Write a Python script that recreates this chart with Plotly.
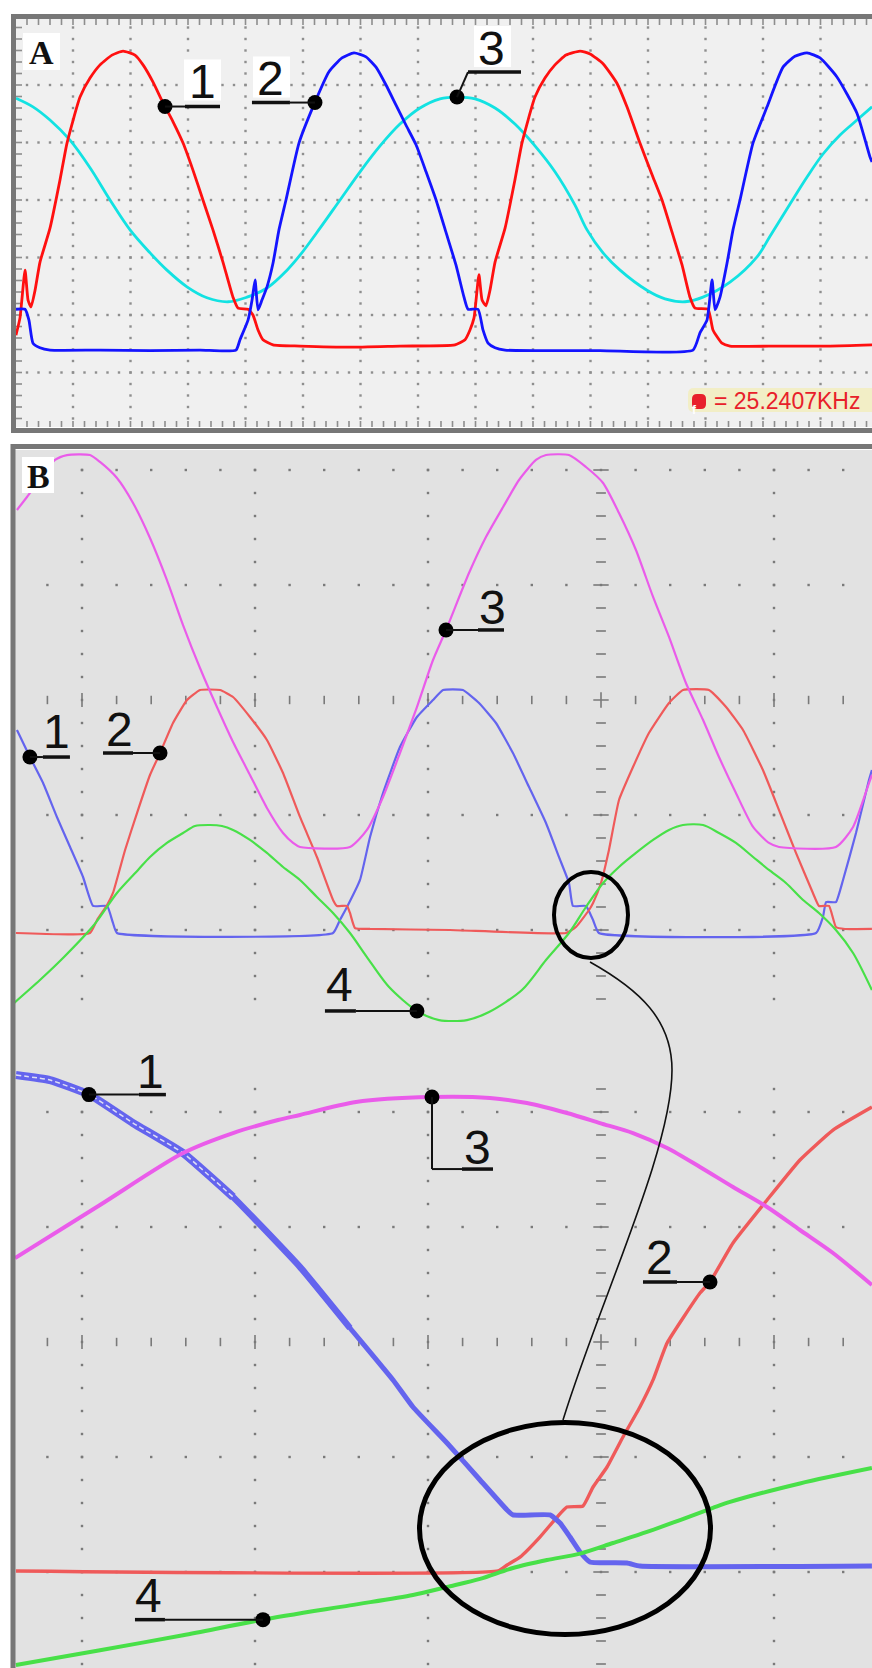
import numpy as np
import plotly.graph_objects as go

W, H = 872, 1668

# ---------------- Screen A: time in µs (5 µs/div), amplitude in divisions ----------------
A_CH1_T = [0.04, 0.39, 0.83, 1.09, 1.35, 1.70, 2.13, 3.00, 3.87, 4.48, 5.61, 6.48, 7.35, 8.39, 9.35,
           10.39, 11.09, 11.96, 12.83, 13.70, 14.57, 15.43, 16.30, 17.17, 18.04, 18.91, 19.35, 20.22,
           20.65, 21.09, 21.52, 22.39, 24.74, 29.09, 33.43, 38.22,
           39.09, 39.52, 39.87, 40.30, 40.57, 40.91, 41.26, 41.70, 42.57, 43.43, 44.04, 45.17, 46.04,
           46.91, 47.87, 49.09, 49.96, 51.09, 52.30, 53.17, 54.30, 55.43, 56.22, 57.09, 57.96, 58.65,
           59.09, 60.22, 60.65, 61.43, 62.13, 66.48, 70.83, 74.48]
A_CH1_V = [-1.35, -1.05, -0.22, -0.74, -0.86, -0.57, -0.08, 0.51, 1.35, 1.99, 2.79, 3.12, 3.35, 3.52, 3.59,
           3.52, 3.35, 3.05, 2.69, 2.36, 1.99, 1.52, 1.00, 0.48, -0.08, -0.69, -0.88, -0.90,
           -1.00, -1.26, -1.43, -1.52, -1.54, -1.56, -1.54, -1.52,
           -1.43, -1.26, -1.05, -0.30, -0.74, -0.84, -0.57, -0.08, 0.51, 1.35, 1.99, 2.79, 3.12,
           3.35, 3.52, 3.59, 3.54, 3.37, 3.03, 2.62, 1.99, 1.40, 1.00, 0.44, -0.13, -0.69,
           -0.88, -0.90, -1.26, -1.49, -1.54, -1.54, -1.54, -1.52]

A_CH2_T = [0.04, 0.83, 1.17, 1.52, 2.13, 3.00, 7.35, 11.70, 16.04, 19.17,
           19.52, 20.22, 20.57, 20.83, 21.09, 21.43, 21.87, 22.39, 22.91, 23.52,
           24.65, 25.87, 27.26, 28.39, 29.43, 30.48, 31.35, 32.22, 33.09, 33.96,
           34.83, 35.70, 36.57, 37.43, 38.30, 39.00, 39.35, 40.22, 40.65, 41.09,
           41.70, 42.57, 50.83, 58.91, 59.52, 60.13, 60.57, 60.83, 61.26, 61.87,
           62.39, 63.00, 64.13, 65.35, 66.74, 67.78, 68.83, 69.96, 71.43, 73.17,
           74.30, 74.48]
A_CH2_V = [-0.90, -0.90, -1.09, -1.49, -1.57, -1.61, -1.61, -1.62, -1.61, -1.61,
           -1.43, -1.09, -0.74, -0.39, -0.91, -0.74, -0.51, -0.10, 0.48, 1.00,
           1.99, 2.62, 3.23, 3.47, 3.56, 3.49, 3.31, 3.00, 2.65, 2.30,
           1.96, 1.49, 1.00, 0.44, -0.13, -0.69, -0.90, -0.90, -1.26, -1.49,
           -1.57, -1.61, -1.62, -1.61, -1.31, -1.09, -0.39, -0.91, -0.69, -0.10,
           0.48, 1.00, 1.99, 2.62, 3.31, 3.50, 3.56, 3.47, 3.14, 2.51,
           1.75, 1.66]

A_CH3_T = [0.04, 1.52, 3.00, 4.74, 6.48, 8.22, 9.96, 11.70, 13.17, 14.91,
           16.65, 18.48, 20.13, 21.87, 23.61, 24.74, 26.48, 28.22, 29.96, 31.70,
           33.43, 35.17, 36.91, 38.39, 39.96, 41.70, 43.43, 45.17, 46.91, 48.65,
           49.70, 51.09, 52.57, 54.91, 56.48, 58.22, 59.78, 62.13, 64.48, 65.61,
           67.35, 68.83, 70.22, 71.70, 73.17, 74.48]
A_CH3_V = [2.77, 2.62, 2.39, 2.04, 1.56, 1.00, 0.48, 0.08, -0.22, -0.51,
           -0.70, -0.77, -0.69, -0.53, -0.22, 0.04, 0.51, 1.00, 1.49, 1.94,
           2.32, 2.60, 2.76, 2.79, 2.76, 2.60, 2.32, 1.94, 1.49, 0.91,
           0.48, 0.08, -0.22, -0.57, -0.72, -0.77, -0.69, -0.43, 0.01, 0.37,
           0.93, 1.40, 1.80, 2.13, 2.39, 2.62]

FREQ_TEXT = "= 25.2407KHz"

# ---------------- Screen B, normal sweep (divisions) ----------------
B_CH1_X = [-3.376, -3.301, -3.225, -3.145, -3.069, -2.994, -2.936, -2.855, -2.821, -2.798,
           -1.549, -1.509, -1.468, -1.393, -1.335, -1.260, -1.162, -1.064, -0.971, -0.913,
           -0.798, -0.705, -0.607, -0.509, -0.416, -0.318, -0.243, -0.185, -0.162, -0.087,
           -0.046, -0.012, 1.243, 1.283, 1.301, 1.358, 1.399, 1.474, 1.549, 1.566]
B_CH1_Y = [-0.261, -0.496, -0.722, -1.017, -1.278, -1.539, -1.791, -1.791, -1.939, -2.026,
           -2.026, -1.913, -1.800, -1.565, -1.191, -0.809, -0.409, -0.148, 0.0, 0.087,
           0.087, -0.026, -0.200, -0.461, -0.757, -1.070, -1.365, -1.591, -1.791, -1.791,
           -1.913, -2.026, -2.026, -1.887, -1.757, -1.757, -1.565, -1.157, -0.696, -0.609]

B_CH2_X = [-3.382, -2.954, -2.913, -2.855, -2.821, -2.751, -2.682, -2.607, -2.549, -2.474, -2.393, -2.318,
           -2.202, -2.127, -2.029, -1.931, -1.838, -1.740, -1.642,
           -1.549, -1.526, -1.468, -1.451, -1.422, -1.335, -0.873,
           -0.202, -0.145, -0.069, -0.046, 0.0, 0.046, 0.104, 0.185, 0.277, 0.393,
           0.474, 0.624, 0.723, 0.821, 0.936, 1.029, 1.127, 1.225, 1.260, 1.318,
           1.358, 1.410, 1.566]
B_CH2_Y = [-2.026, -2.026, -1.913, -1.783, -1.678, -1.304, -0.983, -0.652, -0.461, -0.200, 0.0, 0.087,
           0.087, 0.026, -0.148, -0.348, -0.635, -1.017, -1.365,
           -1.739, -1.791, -1.791, -1.852, -1.983, -1.991, -2.0,
           -2.026, -1.974, -1.826, -1.765, -1.591, -1.304, -0.870, -0.583, -0.287, -0.026,
           0.087, 0.087, -0.061, -0.261, -0.609, -0.957, -1.330, -1.678, -1.791, -1.791,
           -1.974, -1.991, -1.991]

B_CH3_X = [-3.376, -3.318, -3.156, -3.087, -2.954, -2.896, -2.798, -2.705, -2.607, -2.509,
           -2.416, -2.318, -2.220, -2.127, -2.029, -1.931, -1.838, -1.780, -1.740, -1.451,
           -1.353, -1.260, -1.162, -1.064, -0.971, -0.896, -0.763, -0.665, -0.566, -0.474,
           -0.376, -0.318, -0.185, -0.087, 0.012, 0.104, 0.202, 0.301, 0.393, 0.491,
           0.590, 0.682, 0.780, 0.879, 0.971, 1.029, 1.358, 1.457, 1.549, 1.566]
B_CH3_Y = [1.652, 1.765, 2.087, 2.130, 2.130, 2.070, 1.930, 1.713, 1.409, 1.043,
           0.652, 0.278, -0.061, -0.365, -0.652, -0.939, -1.157, -1.243, -1.278, -1.278,
           -1.130, -0.843, -0.461, -0.061, 0.348, 0.609, 1.104, 1.417, 1.678, 1.913,
           2.087, 2.130, 2.130, 2.026, 1.887, 1.626, 1.304, 0.896, 0.548, 0.148,
           -0.174, -0.496, -0.809, -1.104, -1.243, -1.278, -1.278, -1.104, -0.722, -0.652]

B_CH4_X = [-3.393, -3.243, -3.104, -2.931, -2.798, -2.676, -2.607, -2.509, -2.416, -2.347,
           -2.260, -2.191, -2.127, -2.029, -1.931, -1.838, -1.740, -1.642, -1.549, -1.451,
           -1.353, -1.225, -1.064, -0.936, -0.775, -0.647, -0.457, -0.318, -0.185, -0.087,
           0.012, 0.104, 0.202, 0.301, 0.393, 0.474, 0.590, 0.682, 0.780, 0.879,
           0.971, 1.069, 1.168, 1.260, 1.358, 1.457, 1.566]
B_CH4_Y = [-2.635, -2.435, -2.235, -1.957, -1.678, -1.478, -1.365, -1.243, -1.157, -1.096,
           -1.087, -1.096, -1.130, -1.217, -1.330, -1.452, -1.565, -1.713, -1.852, -2.026,
           -2.235, -2.496, -2.704, -2.783, -2.783, -2.713, -2.522, -2.261, -2.026, -1.800,
           -1.591, -1.452, -1.330, -1.217, -1.130, -1.087, -1.087, -1.157, -1.243, -1.365,
           -1.478, -1.591, -1.739, -1.852, -2.0, -2.200, -2.522]

# ---------------- Screen B, expanded sweep (divisions) ----------------
Z_CH1_X = [-3.382, -3.185, -2.954, -2.705, -2.416, -2.127, -1.740, -1.451, -1.202, -1.087,
           -0.890, -0.699, -0.543, -0.509, -0.295, -0.237, -0.179, -0.121, -0.064, 0.150,
           0.225, 1.566]
Z_CH1_Y = [2.322, 2.278, 2.148, 1.904, 1.643, 1.261, 0.652, 0.122, -0.330, -0.565,
           -0.878, -1.2, -1.461, -1.504, -1.504, -1.574, -1.696, -1.826, -1.913, -1.922,
           -1.948, -1.948]

Z_CH2_X = [-3.382, -0.595, -0.543, -0.468, -0.353, -0.254, -0.197, -0.104, -0.046, 0.035,
           0.127, 0.225, 0.301, 0.382, 0.572, 0.630, 0.763, 0.960, 1.150, 1.341, 1.566]
Z_CH2_Y = [-1.991, -1.991, -1.939, -1.870, -1.696, -1.522, -1.435, -1.426, -1.261, -1.087,
           -0.826, -0.565, -0.330, -0.009, 0.426, 0.522, 0.861, 1.235, 1.583, 1.843, 2.043]

Z_CH3_X = [-3.387, -2.896, -2.416, -2.127, -1.867, -1.740, -1.416, -0.983, -0.642, -0.428,
           -0.197, -0.006, 0.185, 0.382, 0.572, 0.763, 0.960, 1.150, 1.341, 1.566]
Z_CH3_Y = [0.730, 1.191, 1.643, 1.817, 1.930, 1.974, 2.087, 2.130, 2.122, 2.078,
           1.991, 1.904, 1.817, 1.687, 1.522, 1.348, 1.174, 0.974, 0.774, 0.496]

Z_CH4_X = [-3.382, -2.896, -2.416, -1.965, -1.451, -1.087, -0.890, -0.699, -0.509, -0.312,
           -0.121, 0.069, 0.266, 0.457, 0.647, 0.746, 1.150, 1.566]
Z_CH4_Y = [-2.809, -2.680, -2.550, -2.417, -2.290, -2.200, -2.130, -2.060, -1.965, -1.896,
           -1.840, -1.748, -1.652, -1.548, -1.443, -1.391, -1.230, -1.096]

# ---------------- screen geometry (pixels) ----------------
A_BOX = (16, 19, 872, 427)          # left, top, right, bottom of screen A
A_T0, A_PX_US = 15.5, 11.5          # pixel of t = 0, pixels per µs
A_V0, A_PX_DIV = 257.5, 57.5        # pixel of 0 div, pixels per div
B_BOX = (15, 450, 872, 1668)
B_X0, B_PX_X = 601, 173
B_UP_Y0, B_LO_Y0, B_PX_Y = 700, 1342, 115

AXES = {"A": ("x", "y"), "U": ("x2", "y2"), "L": ("x2", "y3")}
LABEL_FONT = dict(family="Liberation Sans", size=48, color="#111111")


def to_px(scr, x, y):
    if scr == "A":
        return A_T0 + x * A_PX_US, A_V0 - y * A_PX_DIV
    y0 = B_UP_Y0 if scr == "U" else B_LO_Y0
    return B_X0 + x * B_PX_X, y0 - y * B_PX_Y


def pxx(v):
    return v / W


def pxy(v):
    return 1 - v / H


fig = go.Figure()


def add_markers(scr, xs, ys, color, size, symbol="square", lw=0):
    xa, ya = AXES[scr]
    fig.add_trace(go.Scatter(
        x=xs, y=ys, xaxis=xa, yaxis=ya, mode="markers", hoverinfo="skip",
        marker=dict(symbol=symbol, size=size, color=color,
                    line=dict(width=lw, color=color))))


def add_line(scr, xs, ys, color, width, dash="solid", smooth=0.0):
    xa, ya = AXES[scr]
    line = dict(color=color, width=width, dash=dash)
    if smooth > 0:
        line.update(shape="spline", smoothing=smooth)
    fig.add_trace(go.Scatter(
        x=xs, y=ys, xaxis=xa, yaxis=ya, mode="lines", hoverinfo="skip", line=line))


# ---------- graticule of screen A ----------
A_DOT = "#8e8e8e"
gx, gy = [], []
for xv in np.arange(5, 71, 5):
    for yv in np.arange(-2.8, 4.05, 0.2):
        gx.append(xv); gy.append(yv)
for yv in np.arange(-2, 4, 1):
    for xv in np.arange(1, 74.5, 1.0):
        gx.append(xv); gy.append(yv)
add_markers("A", gx, gy, A_DOT, 2.4)
# edge ticks of screen A
t_top = (A_V0 - 21.5) / A_PX_DIV
t_bot = (A_V0 - 424.5) / A_PX_DIV
xt = np.arange(1, 74.5, 1.0)
add_markers("A", list(xt) * 2, [t_top] * len(xt) + [t_bot] * len(xt), A_DOT, 5, "line-ns", 1.6)
yt = np.arange(-2.8, 4.05, 0.2)
add_markers("A", [(18.5 - A_T0) / A_PX_US] * len(yt), list(yt), A_DOT, 5, "line-ew", 1.6)

# ---------- graticule of screen B (normal and expanded sweeps) ----------
B_DOT = "#7a7a7a"
for scr, ylo, yhi in (("U", -2.6, 2.0), ("L", -2.8, 2.2)):
    gx, gy = [], []
    yy = np.arange(ylo, yhi + 0.01, 0.2)
    xx = np.arange(-3.2, 1.41, 0.2)
    for xv in (-3, -2, -1, 1):
        gx += [xv] * len(yy); gy += list(yy)
    for yv in (-2, -1, 1, 2):
        if ylo <= yv <= yhi:
            gx += list(xx); gy += [yv] * len(xx)
    add_markers(scr, gx, gy, B_DOT, 2.4)
    # centre axes carry tick marks
    minor_x = [v for v in xx if abs(v - round(v)) > 1e-6]
    major_x = [v for v in xx if abs(v - round(v)) <= 1e-6 and abs(v) > 1e-6]
    add_markers(scr, minor_x, [0] * len(minor_x), B_DOT, 6, "line-ns", 1.6)
    add_markers(scr, major_x, [0] * len(major_x), B_DOT, 10, "line-ns", 1.6)
    minor_y = [v for v in yy if abs(v - round(v)) > 1e-6]
    major_y = [v for v in yy if abs(v - round(v)) <= 1e-6 and abs(v) > 1e-6]
    add_markers(scr, [0] * len(minor_y), minor_y, B_DOT, 7, "line-ew", 1.6)
    add_markers(scr, [0] * len(major_y), major_y, B_DOT, 11, "line-ew", 1.6)
    add_markers(scr, [0], [0], B_DOT, 11, "cross-thin", 1.6)

# ---------- traces ----------
add_line("A", A_CH3_T, A_CH3_V, "#12e2e2", 2.8, smooth=1.0)
add_line("A", A_CH1_T, A_CH1_V, "#ff1010", 2.8, smooth=0.5)
add_line("A", A_CH2_T, A_CH2_V, "#1414ff", 2.8, smooth=0.5)

PINK, RED, BLUE, GREEN = "#ea5cea", "#ef5a5a", "#6464ee", "#48e048"
add_line("U", B_CH1_X, B_CH1_Y, BLUE, 2.2, smooth=0.4)
add_line("U", B_CH2_X, B_CH2_Y, RED, 2.2, smooth=0.4)
add_line("U", B_CH4_X, B_CH4_Y, GREEN, 2.2, smooth=0.8)
add_line("U", B_CH3_X, B_CH3_Y, PINK, 2.2, smooth=0.6)

add_line("L", Z_CH2_X, Z_CH2_Y, RED, 3.4, smooth=0.4)
# expanded channel 1: the doubled trace is wide at first and narrows along the sweep
for lo, hi, wdt in ((-9, -2.127, 8), (-2.416, -1.451, 6.5), (-1.740, 9, 5)):
    idx = [i for i, x in enumerate(Z_CH1_X) if lo <= x <= hi]
    add_line("L", [Z_CH1_X[i] for i in idx], [Z_CH1_Y[i] for i in idx], BLUE, wdt, smooth=0.4)
zx = [x for x in Z_CH1_X if x < -2.0]
zy = list(np.interp(zx, Z_CH1_X, Z_CH1_Y))
add_line("L", zx, zy, "rgba(235,235,245,0.9)", 1.5, "5px,3px", smooth=0.4)
add_line("L", Z_CH3_X, Z_CH3_Y, PINK, 4, smooth=0.8)
add_line("L", Z_CH4_X, Z_CH4_Y, GREEN, 4, smooth=0.8)

# ---------- shapes: screen backgrounds and frames ----------
shapes = []
annotations = []


def rect(x0, y0, x1, y1, **kw):
    shapes.append(dict(type="rect", xref="paper", yref="paper",
                       x0=pxx(x0), x1=pxx(x1), y0=pxy(y1), y1=pxy(y0), **kw))


def seg(x0, y0, x1, y1, width, color="#111111"):
    shapes.append(dict(type="line", xref="paper", yref="paper",
                       x0=pxx(x0), x1=pxx(x1), y0=pxy(y0), y1=pxy(y1),
                       line=dict(color=color, width=width)))


rect(*A_BOX, fillcolor="#f0f0f0", line=dict(width=0), layer="below")
rect(*B_BOX, fillcolor="#e2e2e2", line=dict(width=0), layer="below")
rect(13.5, 16.5, 885, 430.5, line=dict(color="#777777", width=5), layer="above")
rect(13, 446.5, 885, 1690, line=dict(color="#777777", width=5), layer="above")

# panel letters
for letter, (bx0, by0, bx1, by1) in (("A", (23, 33, 60, 70)), ("B", (22, 457, 54, 493))):
    rect(bx0, by0, bx1, by1, fillcolor="white", line=dict(width=0))
    annotations.append(dict(xref="paper", yref="paper", x=pxx((bx0 + bx1) / 2), y=pxy((by0 + by1) / 2 + 1),
                            text="<b>%s</b>" % letter, showarrow=False, xanchor="center", yanchor="middle",
                            font=dict(family="Liberation Serif", size=34, color="#111111")))


# frequency read-out of screen A
def rounded_path(x0, y0, x1, y1, r):
    p = [(x0 + r, y0), (x1 - r, y0), (x1, y0), (x1, y0 + r), (x1, y1 - r), (x1, y1), (x1 - r, y1),
         (x0 + r, y1), (x0, y1), (x0, y1 - r), (x0, y0 + r), (x0, y0), (x0 + r, y0)]
    q = [(pxx(a), pxy(b)) for a, b in p]
    return ("M %f,%f L %f,%f Q %f,%f %f,%f L %f,%f Q %f,%f %f,%f L %f,%f Q %f,%f %f,%f "
            "L %f,%f Q %f,%f %f,%f Z") % tuple(v for pt in q for v in pt)


shapes.append(dict(type="path", xref="paper", yref="paper", path=rounded_path(688, 388, 878, 412, 6),
                   fillcolor="#f2eec6", line=dict(width=0)))
shapes.append(dict(type="path", xref="paper", yref="paper", path=rounded_path(692, 394, 706, 409, 5),
                   fillcolor="#e8202a", line=dict(width=0)))
annotations.append(dict(xref="paper", yref="paper", x=pxx(699), y=pxy(401.5), text="<b>f</b>",
                        showarrow=False, font=dict(family="Liberation Sans", size=12, color="white")))
annotations.append(dict(xref="paper", yref="paper", x=pxx(712), y=pxy(401), text=FREQ_TEXT,
                        showarrow=False, xanchor="left", yanchor="middle",
                        font=dict(family="Liberation Sans", size=23, color="#e8202a")))

# ---------- channel labels: dot on the trace, leader, number ----------
SERIES = {
    "A1": ("A", A_CH1_T, A_CH1_V), "A2": ("A", A_CH2_T, A_CH2_V), "A3": ("A", A_CH3_T, A_CH3_V),
    "U1": ("U", B_CH1_X, B_CH1_Y), "U2": ("U", B_CH2_X, B_CH2_Y),
    "U3": ("U", B_CH3_X, B_CH3_Y), "U4": ("U", B_CH4_X, B_CH4_Y),
    "L1": ("L", Z_CH1_X, Z_CH1_Y), "L2": ("L", Z_CH2_X, Z_CH2_Y),
    "L3": ("L", Z_CH3_X, Z_CH3_Y), "L4": ("L", Z_CH4_X, Z_CH4_Y),
}
# key, x on the trace, text, thin leader (pixel offsets), thick underline, text offset, white box
LABELS = [
    ("A1", 13.00, "1", [(0, 0), (20, 0)], [(20, 0), (55, 0)], (37, -25), True),
    ("A2", 26.04, "2", [(0, 0), (-25, 0)], [(-63, 0), (-25, 0)], (-44, -24), True),
    ("A3", 38.39, "3", [(0, 0), (11, -25)], [(11, -25), (64, -25)], (35, -49), True),
    ("U1", -3.301, "1", [(0, 0), (13, 0)], [(13, 0), (40, 0)], (27, -26), False),
    ("U2", -2.549, "2", [(0, 0), (-27, 0)], [(-57, 0), (-27, 0)], (-41, -24), False),
    ("U3", -0.896, "3", [(0, 0), (32, 0)], [(32, 0), (58, 0)], (47, -22), False),
    ("U4", -1.064, "4", [(0, 0), (-61, 0)], [(-92, 0), (-61, 0)], (-77, -26), False),
    ("L1", -2.960, "1", [(0, 0), (50, 0)], [(50, 0), (77, 0)], (62, -23), False),
    ("L3", -0.977, "3", [(0, 0), (0, 72), (30, 72)], [(30, 72), (61, 72)], (46, 50), False),
    ("L2", 0.630, "2", [(0, 0), (-33, 0)], [(-67, 0), (-33, 0)], (-50, -24), False),
    ("L4", -1.954, "4", [(0, 0), (-98, 0)], [(-128, 0), (-98, 0)], (-114, -24), False),
]

for key, xd, txt, thin, thick, (tdx, tdy), box in LABELS:
    scr, sx, sy = SERIES[key]
    yd = float(np.interp(xd, sx, sy))
    dxp, dyp = to_px(scr, xd, yd)
    tx, ty = dxp + tdx, dyp + tdy
    if box:
        rect(tx - 18, ty - 22, tx + 19, ty + 19, fillcolor="white", line=dict(width=0))
    for (a, b), (c, d) in zip(thin[:-1], thin[1:]):
        seg(dxp + a, dyp + b, dxp + c, dyp + d, 2)
    (a, b), (c, d) = thick
    seg(dxp + a, dyp + b, dxp + c, dyp + d, 3.5)
    add_markers(scr, [xd], [yd], "#000000", 15, "circle")
    annotations.append(dict(xref="paper", yref="paper", x=pxx(tx), y=pxy(ty),
                            text=txt, showarrow=False, xanchor="center", yanchor="middle",
                            font=LABEL_FONT))

# ---------- magnifier rings and connector ----------
shapes.append(dict(type="circle", xref="paper", yref="paper", x0=pxx(554), x1=pxx(628),
                   y0=pxy(958), y1=pxy(872), line=dict(color="#000000", width=4)))
shapes.append(dict(type="circle", xref="paper", yref="paper", x0=pxx(419.5), x1=pxx(710.5),
                   y0=pxy(1634.5), y1=pxy(1422.5), line=dict(color="#000000", width=5)))
cpts = [(590, 962), (640, 990), (672, 1020), (672, 1070), (672, 1150), (600, 1300), (563, 1420)]
cq = [(pxx(a), pxy(b)) for a, b in cpts]
cpath = "M %f,%f C %f,%f %f,%f %f,%f C %f,%f %f,%f %f,%f" % tuple(v for pt in cq for v in pt)
shapes.append(dict(type="path", xref="paper", yref="paper", path=cpath,
                   line=dict(color="#111111", width=1.6)))

fig.update_layout(
    width=W, height=H, margin=dict(l=0, r=0, t=0, b=0),
    paper_bgcolor="white", plot_bgcolor="rgba(0,0,0,0)", showlegend=False,
    xaxis=dict(domain=[A_BOX[0] / W, A_BOX[2] / W], visible=False,
               range=[(A_BOX[0] - A_T0) / A_PX_US, (A_BOX[2] - A_T0) / A_PX_US]),
    yaxis=dict(domain=[1 - A_BOX[3] / H, 1 - A_BOX[1] / H], visible=False,
               range=[(A_V0 - A_BOX[3]) / A_PX_DIV, (A_V0 - A_BOX[1]) / A_PX_DIV]),
    xaxis2=dict(domain=[B_BOX[0] / W, B_BOX[2] / W], visible=False, anchor="y2",
                range=[(B_BOX[0] - B_X0) / B_PX_X, (B_BOX[2] - B_X0) / B_PX_X]),
    yaxis2=dict(domain=[1 - B_BOX[3] / H, 1 - B_BOX[1] / H], visible=False, anchor="x2",
                range=[(B_UP_Y0 - B_BOX[3]) / B_PX_Y, (B_UP_Y0 - B_BOX[1]) / B_PX_Y]),
    yaxis3=dict(visible=False, anchor="x2", overlaying="y2",
                range=[(B_LO_Y0 - B_BOX[3]) / B_PX_Y, (B_LO_Y0 - B_BOX[1]) / B_PX_Y]),
    shapes=shapes, annotations=annotations,
)

fig.write_html("out.html")
